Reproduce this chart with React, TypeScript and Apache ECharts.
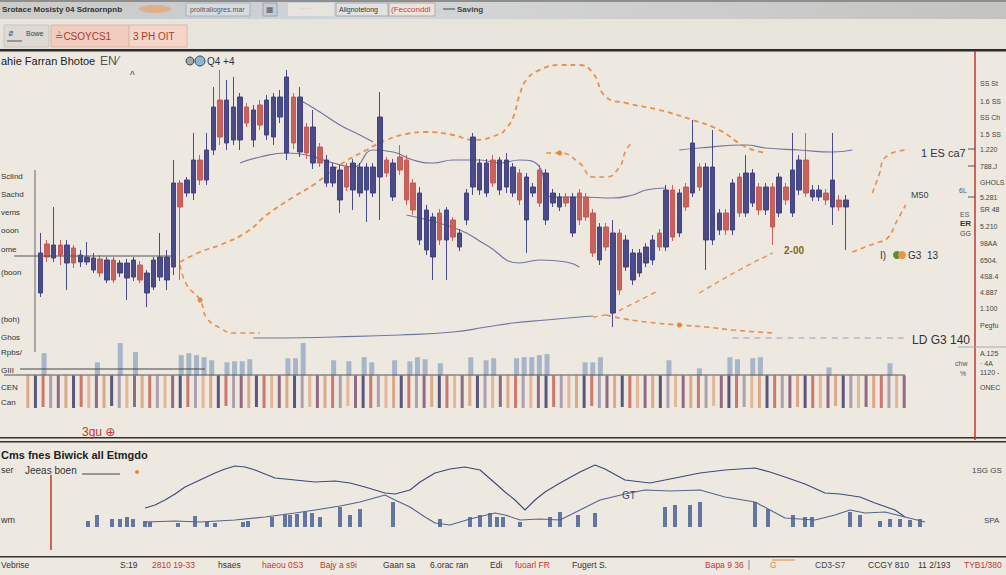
import React, { useEffect, useRef } from "react";
import * as echarts from "echarts";

// ---------- DATA ----------
// candles: [open, close, low, high]
const candles: number[][] = [
  [52,92,48,112],[101,88,83,105],[87,100,83,138],[100,90,80,105],[82,100,55,105],
  [97,82,77,100],[83,90,78,95],[83,88,80,103],[75,87,72,92],[86,72,68,90],
  [65,85,62,88],[85,65,62,88],[72,82,68,85],[67,82,45,86],[68,85,64,88],
  [80,65,62,84],[52,72,38,75],[58,85,55,88],[68,88,64,112],[65,88,55,95],
  [78,162,70,185],[162,138,65,165],[152,165,148,168],[152,185,145,212],[185,165,160,190],
  [165,195,160,212],[195,238,190,258],[245,208,200,275],[202,245,195,265],[205,238,200,268],
  [205,248,195,252],[238,222,218,242],[205,235,198,240],[240,220,215,245],[210,245,205,250],
  [208,248,200,252],[228,248,222,255],[192,268,185,275],[248,202,196,252],[193,248,188,258],
  [218,192,186,222],[182,218,176,235],[198,182,178,202],[162,185,158,190],[162,178,158,182],
  [145,175,132,180],[178,158,154,182],[155,182,135,186],[152,178,148,182],[155,178,123,182],
  [152,178,148,182],[168,228,125,253],[185,172,168,188],[148,182,144,186],[188,175,170,200],
  [185,145,140,190],[162,135,130,166],[105,152,100,158],[95,135,90,140],[88,128,65,132],
  [132,105,100,136],[105,135,65,138],[125,108,104,128],[98,112,94,116],[125,152,120,156],
  [158,208,150,212],[155,182,150,186],[152,182,148,186],[185,162,158,190],[155,185,150,188],
  [158,185,152,192],[152,178,148,182],[172,145,140,176],[125,168,92,172],[152,158,148,162],
  [175,142,138,180],[125,172,120,176],[142,152,138,156],[138,148,134,152],[148,142,138,152],
  [112,148,108,152],[152,125,120,156],[148,128,124,152],[132,92,88,136],[85,118,80,122],
  [118,98,94,122],[32,112,18,125],[112,55,50,116],[78,105,74,110],[65,92,60,96],
  [72,92,68,96],[82,98,78,102],[85,105,80,110],[112,98,94,116],[98,155,94,160],
  [155,108,104,160],[112,152,108,156],[158,138,134,162],[152,202,148,225],[178,158,154,182],
  [105,178,75,182],[105,178,100,215],[115,132,110,136],[132,115,110,136],[115,162,110,166],
  [168,132,128,172],[132,172,128,190],[142,172,138,176],[158,135,130,162],[135,158,130,162],
  [158,118,100,162],[132,168,128,172],[158,145,140,162],[132,175,128,212],[155,185,150,190],
  [185,152,148,212],[148,155,144,160],[148,155,144,160],[152,145,140,156],[138,165,120,212],
  [145,138,134,150],[138,145,95,150]
];
const sessions = Array.from({ length: 131 }, (_, i) => "S" + (i + 1));

// orange dashed overlays: [sessionIndex, level]
const orangeArc = [[21,83],[24,93],[27,100],[31,113],[34,130],[38,148],[41,160],[45,180],[49,195],[52,205],[55,211],[58,213],[62,210],[65,205],[69,211],[70,217],[71,227],[72,250],[73,265],[75,275],[78,280],[81,280],[83,272],[85,248],[88,242],[93,235],[98,225],[102,215],[106,198],[109,192]];
const orangeDip = [[21,80],[22,60],[24,45],[25,27],[27,17],[29,12],[33,12]];
const orangeLoop = [[76,192],[78,192],[81,182],[83,168],[85,168],[87,178],[88,195],[89,203]];
const orangeRise = [[83,28],[86,32],[88,38],[91,48],[93,55]];
const orangeFloor = [[85,30],[87,27],[91,23],[96,20],[100,18],[104,15],[110,12]];
const orangeUp = [[99,52],[105,75],[110,92]];
const orangeRightA = [[122,93],[126,103],[127,105],[129,128],[130,140]];
const orangeRightB = [[125,152],[126,170],[127,188],[130,195]];
// thin blue averages
const avg1 = [[30,182],[33,188],[37,192],[40,190],[44,182],[47,178],[50,195],[53,193],[56,185],[59,182],[62,185],[66,185],[69,182],[72,185],[75,178],[76,152],[77,148],[81,148],[86,147],[89,150],[91,155],[94,157]];
const avg2 = [[39,245],[42,233],[45,220],[48,210],[50,203]];
const avg3 = [[96,195],[99,197],[106,200],[109,197],[114,195],[119,193],[122,195]];
const avg4 = [[55,130],[63,115],[67,100],[72,82],[75,85],[79,83],[81,78]];
const avg5 = [[32,7],[37,7],[44,8],[54,10],[62,13],[67,18],[71,22],[76,25],[81,28],[83,29]];
const avg6 = [[104,7],[130,7]];

// volume strip
const volSlots = Array.from({ length: 116 }, (_, i) => "V" + (i + 1));
const volUp = [[2,22],[9,13],[12,35],[14,23],[20,20],[21,22],[22,20],[23,18],[24,15],[26,13],[27,14],[28,14],[29,16],[34,17],[35,17],[36,32],[40,15],[42,14],[44,18],[45,13],[48,15],[50,14],[51,18],[52,16],[54,12],[58,18],[60,15],[61,17],[64,17],[65,18],[66,18],[67,20],[68,21],[73,13],[74,13],[75,18],[84,15],[88,7],[92,18],[93,16],[95,17],[96,18],[105,8],[113,12]];
const volDown = [
  -32,-32,-31,-32,-32,-33,-32,-31,-32,-32,-32,-30,-32,-32,-31,-32,-32,-32,-33,-32,
  -32,-31,-32,-32,-32,-32,-30,-32,-32,-32,-31,-32,-32,-32,-33,-32,-32,-31,-32,-32,
  -32,-32,-30,-32,-32,-32,-31,-32,-32,-32,-33,-32,-32,-31,-32,-32,-32,-32,-30,-32,
  -32,-32,-31,-32,-32,-32,-33,-32,-32,-31,-32,-32,-32,-32,-30,-32,-32,-32,-31,-32,
  -32,-32,-33,-32,-32,-31,-32,-32,-32,-32,-30,-32,-32,-32,-31,-32,-32,-32,-33,-32,
  -38,-31,-32,-32,-32,-32,-30,-32,-32,-32,-31,-32,-32,-32,-33,-32
];

// lower panel
const oscUpper = [[12,19],[14,22],[16,27],[18,33],[20,40],[23,47],[26,54],[28,58],[30,61],[32,60],[34,57],[36,53],[38,49],[42,47],[46,45],[50,46],[53,44],[56,40],[60,34],[62,33],[65,37],[67,45],[70,54],[73,58],[76,60],[79,57],[82,44],[84,35],[86,27],[88,17],[90,27],[92,35],[95,44],[99,55],[102,62],[104,58],[108,47],[113,44],[118,49],[123,54],[128,57],[134,59],[137,55],[140,50],[144,43],[148,34],[151,33],[155,30],[158,24],[162,17],[164,10]];
const oscLower = [[12,5],[18,6],[23,5],[30,7],[36,10],[42,14],[46,17],[51,21],[55,25],[60,32],[62,27],[65,20],[68,10],[70,4],[73,2],[77,8],[82,14],[84,12],[87,7],[91,8],[95,7],[99,17],[103,27],[108,33],[112,37],[117,36],[123,37],[128,30],[134,25],[137,17],[140,9],[146,7],[150,12],[153,17],[156,14],[160,15],[164,10],[168,5]];
const oscBars = [[0.6,6],[2.4,12],[5.4,8],[7,8],[8.4,10],[9.6,8],[12,6],[13,5],[18.6,4],[22,11],[24.4,5],[26,4],[31.6,5],[32.6,6],[37.4,10],[40,13],[41,12],[42.4,13],[44,15],[45.4,14],[47,10],[51,20],[53,12],[55,18],[61.6,25],[71,8],[77,10],[79,12],[81,14],[82.4,10],[83.6,10],[87,5],[93,10],[95,15],[98.6,12],[102,14],[116,20],[118,22],[121,22],[123,25],[134,25],[136.6,18],[141.6,12],[144,10],[145.4,10],[153,15],[155,12],[159,6],[161,8],[163,8],[165,7],[167,8]];

const leftLabels = ["Sclind", "Sachd", "vems", "ooon", "ome", "(boon", "(boh)", "Ghos", "Rpbs/", "GIII", "CEN", "Can"];
const rightLabels = ["SS St", "1.6 SS", "SS Ch", "1.5 SS", "1.220", "788.J", "GHOLS", "5.281", "SR 48", "5.210", "98AA", "6504.", "4S8.4", "4.887", "1.100", "Pegfu", "A.125", "· 4A", "1120 -", "ONEC"];
const footer = ["Vebrise", "S:19", "2810 19-33", "hsaes", "haeou 0S3", "Bajy a s9i", "Gaan sa", "6.orac ran", "Edi", "fuoarl FR", "Fugert S.", "Bapa 9 36", "G", "CD3-S7", "CCGY 810", "11 2/193", "TYB1/380"];

// ---------- CHART ----------
const FONT = '"Liberation Sans", "DejaVu Sans", Arial, sans-serif';
const UP = "#3c3d80";
const DOWN = "#c4564f";
const ORANGE = "#e8843c";
const THIN = "#5c6296";

function txt(x: number, y: number, text: string, size = 10, fill = "#333", weight = "normal", align = "left") {
  return { type: "text", x, y, z: 50, style: { text, fill, font: `${weight} ${size}px ${FONT}`, textAlign: align, textVerticalAlign: "middle" } };
}
function rect(x: number, y: number, w: number, h: number, fill: any, stroke?: string) {
  return { type: "rect", z: 1, shape: { x, y, width: w, height: h }, style: { fill, stroke: stroke || null, lineWidth: 1 } };
}
function ln(x1: number, y1: number, x2: number, y2: number, stroke = "#333", w = 1, dash?: number[]) {
  return { type: "line", z: 40, shape: { x1, y1, x2, y2 }, style: { stroke, lineWidth: w, lineDash: dash || null } };
}

function orangeLine(data: number[][], dots = false, width = 1.6) {
  return {
    type: "line", xAxisIndex: 0, yAxisIndex: 0, data, smooth: true,
    symbol: dots ? "circle" : "none", symbolSize: 5,
    itemStyle: { color: ORANGE },
    lineStyle: { color: ORANGE, width, type: [5, 4] as any, opacity: 0.9 }, z: 4,
  };
}
function thinLine(data: number[][], dashed = false) {
  return {
    type: "line", xAxisIndex: 0, yAxisIndex: 0, data, smooth: true, symbol: "none",
    lineStyle: { color: dashed ? "#8a8fb0" : THIN, width: 1.2, type: dashed ? [6, 5] as any : "solid", opacity: 0.85 }, z: 3,
  };
}

const volPalette = ["#d9a27c", "#4b4672", "#c96b5f", "#a998aa", "#e2b08e", "#8a5b78"];

export default function App() {
  const ref = useRef<HTMLDivElement>(null);
  useEffect(() => {
    if (!ref.current) return;
    const chart = echarts.init(ref.current, undefined, { renderer: "svg" });

    const graphics: any[] = [];
    // top toolbar
    graphics.push(rect(0, 0, 1006, 19, { type: "linear", x: 0, y: 0, x2: 1, y2: 0, colorStops: [
      { offset: 0, color: "#cfccc6" }, { offset: 0.18, color: "#c9ccd0" }, { offset: 0.35, color: "#cfd6de" },
      { offset: 0.5, color: "#d2d3d3" }, { offset: 1, color: "#c3c3c1" }] }));
    graphics.push(rect(0, 0, 1006, 2, "#8e8e8e"));
    graphics.push(rect(0, 19, 1006, 31, "#e7e4dc"));
    graphics.push(rect(186, 3, 64, 13, "#d6dbe2", "#aab2bc"));
    graphics.push(rect(263, 3, 14, 13, "#c6ccd4", "#9aa4b0"));
    graphics.push(rect(288, 3, 46, 13, "#e7e4e0"));
    graphics.push(rect(336, 3, 52, 13, "#e2e2e0", "#a8a8a8"));
    graphics.push(rect(389, 3, 46, 13, "#ece4dc", "#b8a8a0"));
    graphics.push({ type: "ellipse", z: 2, shape: { cx: 155, cy: 9, rx: 16, ry: 4 }, style: { fill: "#e8a46a", opacity: 0.7 } });
    graphics.push(txt(2, 9, "Srotace Mosisty 04 Sdraornpnb", 8, "#333", "bold"));
    graphics.push(txt(190, 9, "proitraliogres.mar", 7, "#555"));
    graphics.push(txt(266, 9, "▦", 8, "#555"));
    graphics.push(txt(300, 8, "······", 6, "#aaa"));
    graphics.push(txt(339, 9, "Alignotetong", 7, "#333"));
    graphics.push(txt(391, 9, "(Fecconddl", 8, "#b44", "normal"));
    graphics.push(ln(443, 9, 455, 9, "#444", 1));
    graphics.push(txt(457, 9, "Saving", 8, "#444", "bold"));
    // second row buttons
    graphics.push(rect(4, 25, 45, 22, "#dedad3", "#c8c4bc"));
    graphics.push(txt(8, 33, "⇵", 7, "#345"));
    graphics.push(txt(26, 33, "Bowe", 7, "#345"));
    graphics.push(ln(7, 41, 22, 41, "#456", 1));
    graphics.push(rect(51, 25, 78, 22, "#f1cdbd", "#e0b5a5"));
    graphics.push(txt(55, 36, "≟CSOYCS1", 10, "#b03a2e"));
    graphics.push(rect(129, 25, 58, 22, "#f3d6c9", "#e0b5a5"));
    graphics.push(txt(133, 36, "3 PH OIT", 10, "#b03a2e"));
    graphics.push(rect(0, 49, 1006, 2.5, "#2c2c2c"));

    // main panel labels
    graphics.push(txt(1, 61, "ahie Farran Bhotoe", 11, "#222"));
    graphics.push(txt(100, 61, "EN⁄", 12, "#555"));
    graphics.push(txt(130, 75, "^", 10, "#444"));
    graphics.push({ type: "circle", z: 45, shape: { cx: 190, cy: 61, r: 4 }, style: { fill: "#9aa", stroke: "#444" } });
    graphics.push({ type: "circle", z: 45, shape: { cx: 200, cy: 61, r: 5 }, style: { fill: "#8fb4cf", stroke: "#345" } });
    graphics.push(txt(207, 61, "Q4 +4", 10, "#333"));
    const ys = [176, 194, 212, 230, 249, 272, 319, 337, 352, 370, 387, 402];
    leftLabels.forEach((l, i) => {
      graphics.push(txt(1, ys[i], l, 8, "#333", "normal", "left"));
    });
    graphics.push(ln(35, 170, 35, 352, "#666", 1));
    graphics.push(ln(14, 256, 172, 256, "#555", 1));
    graphics.push(txt(921, 153, "1 ES ca7", 11, "#333"));
    graphics.push(txt(911, 195, "M50", 9, "#444"));
    graphics.push(txt(784, 250, "2-00", 10, "#8a6418", "bold"));
    graphics.push({ type: "circle", z: 45, shape: { cx: 897, cy: 255, r: 4 }, style: { fill: "#5f8a3a" } });
    graphics.push({ type: "circle", z: 45, shape: { cx: 902, cy: 255, r: 4 }, style: { fill: "#e49a3c" } });
    graphics.push(txt(880, 255, "I)", 10, "#333"));
    graphics.push(txt(908, 255, "G3  13", 10, "#333"));
    graphics.push(txt(912, 340, "LD G3 140", 12, "#333"));
    graphics.push(txt(959, 190, "6L", 7, "#555"));
    graphics.push(txt(960, 214, "ES", 7, "#555"));
    graphics.push(txt(960, 223, "ER", 8, "#333", "bold"));
    graphics.push(txt(960, 233, "GG", 7, "#444"));
    graphics.push(txt(955, 363, "chw", 7, "#555"));
    graphics.push(txt(960, 373, "%", 7, "#555"));
    graphics.push(txt(82, 432, "3gu ⊕", 12, "#c0392b"));

    // right column
    graphics.push(ln(975, 51, 975, 440, "#c0392b", 1.5));
    const ry = [83, 101, 117, 134, 149, 166, 182, 197, 209, 226, 243, 260, 276, 292, 308, 325, 353, 363, 372, 387];
    rightLabels.forEach((l, i) => graphics.push(txt(980, ry[i], l, 7, "#444")));
    graphics.push(ln(958, 347, 1006, 347, "#aaa", 1));
    graphics.push(ln(968, 149, 975, 149, "#555", 1));
    graphics.push(ln(968, 166, 975, 166, "#555", 1));
    graphics.push(ln(968, 197, 975, 197, "#555", 1));

    // volume strip decorations
    graphics.push(ln(4, 375, 905, 375, "#555", 1.2));
    graphics.push(ln(20, 369, 205, 369, "#444", 1));

    // panel separators
    graphics.push(rect(0, 437, 1006, 1.5, "#333"));
    graphics.push(rect(0, 441, 1006, 1.5, "#333"));
    graphics.push(rect(0, 556, 1006, 1.5, "#333"));

    // lower panel texts
    graphics.push(txt(1, 455, "Cms fnes Biwick all Etmgdo", 11, "#222", "bold"));
    graphics.push(txt(1, 470, "ser", 9, "#333"));
    graphics.push(txt(25, 470, "Jeeas boen", 10, "#333"));
    graphics.push(ln(82, 474, 120, 474, "#444", 1));
    graphics.push({ type: "circle", z: 45, shape: { cx: 137, cy: 472, r: 2 }, style: { fill: "#e8843c" } });
    graphics.push(txt(1, 520, "wm", 9, "#333"));
    graphics.push(ln(51, 475, 51, 550, "#c0392b", 1.5));
    graphics.push(txt(972, 470, "1SG GS", 8, "#444"));
    graphics.push(txt(984, 520, "SPA", 8, "#444"));
    graphics.push(txt(622, 495, "GT", 10, "#3b4a7a"));

    // footer
    const fx = [1, 120, 152, 218, 262, 320, 383, 430, 490, 515, 572, 705, 770, 815, 868, 918, 964];
    const fc = ["#333", "#333", "#c0392b", "#333", "#c0392b", "#c0392b", "#333", "#333", "#333", "#c0392b", "#333", "#c0392b", "#e8843c", "#444", "#333", "#333", "#c0392b"];
    footer.forEach((f, i) => graphics.push(txt(fx[i], 565, f, 8.5, fc[i])));
    graphics.push(ln(749, 560, 749, 570, "#888", 1));
    graphics.push(ln(772, 560, 795, 560, "#e8843c", 1));

    const option: any = {
      animation: false,
      backgroundColor: "#ede9e1",
      graphic: { elements: graphics },
      grid: [
        { left: 37, right: 97, top: 65, bottom: 230 },
        { left: 24, right: 98, top: 343, bottom: 167 },
        { left: 85, right: 76, top: 460, bottom: 48 },
      ],
      xAxis: [
        { type: "category", gridIndex: 0, data: sessions, show: false, boundaryGap: true },
        { type: "category", gridIndex: 1, data: volSlots, show: false, boundaryGap: true },
        { type: "value", gridIndex: 2, min: 0, max: 169, show: false },
      ],
      yAxis: [
        { type: "value", gridIndex: 0, min: 0, max: 280, show: false },
        { type: "value", gridIndex: 1, min: -32, max: 32, show: false },
        { type: "value", gridIndex: 2, min: 0, max: 67, show: false },
      ],
      series: [
        {
          type: "candlestick", xAxisIndex: 0, yAxisIndex: 0, data: candles, barWidth: 5,
          itemStyle: { color: UP, color0: DOWN, borderColor: UP, borderColor0: DOWN, borderWidth: 1, opacity: 0.92 }, z: 5,
        },
        orangeLine(orangeArc, false, 1.8),
        orangeLine(orangeDip, true, 1.6),
        orangeLine(orangeLoop, true, 1.6),
        orangeLine(orangeRise, false, 1.4),
        orangeLine(orangeFloor, true, 1.6),
        orangeLine(orangeUp, false, 1.4),
        orangeLine(orangeRightA, false, 1.6),
        orangeLine(orangeRightB, false, 1.6),
        thinLine(avg1), thinLine(avg2), thinLine(avg3), thinLine(avg4), thinLine(avg5), thinLine(avg6, true),
        {
          type: "bar", xAxisIndex: 1, yAxisIndex: 1, data: volUp, barWidth: 5,
          itemStyle: { color: "#8fa3bf", opacity: 0.75 }, z: 3,
        },
        {
          type: "bar", xAxisIndex: 1, yAxisIndex: 1, data: volDown, barWidth: 3, barGap: "-100%",
          itemStyle: { color: (p: any) => volPalette[(p.dataIndex * 7 + (p.dataIndex >> 2)) % volPalette.length], opacity: 0.9 }, z: 3,
        },
        {
          type: "bar", xAxisIndex: 2, yAxisIndex: 2, data: oscBars, barWidth: 4,
          itemStyle: { color: "#4a6296", opacity: 0.85 }, z: 3,
        },
        {
          type: "line", xAxisIndex: 2, yAxisIndex: 2, data: oscUpper, symbol: "none",
          lineStyle: { color: "#3b4a7a", width: 1.1 }, z: 4,
        },
        {
          type: "line", xAxisIndex: 2, yAxisIndex: 2, data: oscLower, symbol: "none",
          lineStyle: { color: "#56648e", width: 1.1 }, z: 4,
        },
      ],
    };
    chart.setOption(option);
    return () => chart.dispose();
  }, []);

  return <div ref={ref} style={{ position: "fixed", left: 0, top: 0, width: 1006, height: 575 }} />;
}
